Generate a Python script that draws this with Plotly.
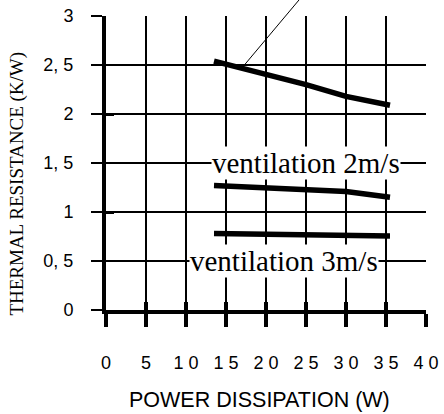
import plotly.graph_objects as go

# ---- data ----
x_natural = [13.5, 20, 25, 30, 35.5]
y_natural = [2.54, 2.41, 2.30, 2.18, 2.09]

x_vent2 = [13.5, 30, 35.5]
y_vent2 = [1.27, 1.21, 1.15]

x_vent3 = [13.5, 35.5]
y_vent3 = [0.78, 0.755]

x_tickvals = [0, 5, 10, 15, 20, 25, 30, 35, 40]
x_ticktext = ["0", "5", "1 0", "1 5", "2 0", "2 5", "3 0", "3 5", "4 0"]
y_tickvals = [0, 0.5, 1, 1.5, 2, 2.5, 3]
y_ticktext = ["0", "0, 5", "1", "1, 5", "2", "2, 5", "3"]
y_major = [0, 1, 2, 3]

label_vent2 = ("ventilation 2m/s", 25.0, 1.5)
label_vent3 = ("ventilation 3m/s", 22.3, 0.5)
leader = {"from": (24.5, 3.2), "to": (17.4, 2.51)}

LINE_W = 5.5

fig = go.Figure()
for xs, ys in [(x_natural, y_natural), (x_vent2, y_vent2), (x_vent3, y_vent3)]:
    fig.add_trace(go.Scatter(x=xs, y=ys, mode="lines",
                             line=dict(color="black", width=LINE_W),
                             showlegend=False, hoverinfo="skip"))
# invisible trace to register overlay axes (cross ticks)
fig.add_trace(go.Scatter(x=[None], y=[None], xaxis="x2", yaxis="y2",
                         mode="lines", showlegend=False, hoverinfo="skip"))

tickfont = dict(family="Liberation Sans, Arial, sans-serif", size=18, color="black")

fig.update_layout(
    width=444, height=414,
    margin=dict(l=106, r=18, t=16, b=104),
    paper_bgcolor="white", plot_bgcolor="white",
    xaxis=dict(range=[0, 40], tickvals=x_tickvals, ticktext=x_ticktext,
               ticks="outside", ticklen=13, tickwidth=4, tickcolor="black",
               showgrid=True, gridcolor="black", gridwidth=2,
               showline=True, linecolor="black", linewidth=4,
               zeroline=False, tickfont=tickfont, ticklabelstandoff=20,
               automargin=False),
    yaxis=dict(range=[0, 3], tickvals=y_tickvals, ticktext=y_ticktext,
               ticks="outside", ticklen=11, tickwidth=2, tickcolor="black",
               showgrid=True, gridcolor="black", gridwidth=2,
               showline=True, linecolor="black", linewidth=4,
               zeroline=False, tickfont=tickfont, ticklabelstandoff=14,
               automargin=False),
    xaxis2=dict(range=[0, 40], overlaying="x", anchor="y", side="bottom",
                tickvals=x_tickvals, ticks="inside", ticklen=8, tickwidth=4,
                tickcolor="black", showticklabels=False, showgrid=False,
                showline=False, zeroline=False, automargin=False),
    yaxis2=dict(range=[0, 3], overlaying="y", anchor="x", side="left",
                tickvals=y_major, ticks="inside", ticklen=8, tickwidth=3,
                tickcolor="black", showticklabels=False, showgrid=False,
                showline=False, zeroline=False, automargin=False),
)

serif = "Liberation Serif, Times New Roman, serif"
for text, lx, ly in [label_vent2, label_vent3]:
    fig.add_annotation(x=lx, y=ly, xref="x", yref="y", text=text,
                       showarrow=False, bgcolor="white", borderpad=0,
                       font=dict(family=serif, size=29, color="black"),
                       xanchor="center", yanchor="middle")

fig.add_annotation(x=leader["to"][0], y=leader["to"][1], xref="x", yref="y",
                   ax=leader["from"][0], ay=leader["from"][1], axref="x", ayref="y",
                   text="", showarrow=True, arrowhead=0, arrowwidth=1,
                   arrowcolor="black", standoff=0, startstandoff=0)

# axis titles
fig.add_annotation(x=-0.278, y=0.43, xref="paper", yref="paper",
                   text="THERMAL RESISTANCE (K/W)", textangle=-90, showarrow=False,
                   font=dict(family=serif, size=19, color="black"),
                   xanchor="center", yanchor="middle")
fig.add_annotation(x=0.48, y=-0.306, xref="paper", yref="paper",
                   text="POWER DISSIPATION (W)", showarrow=False,
                   font=dict(family="Liberation Sans, Arial, sans-serif", size=21.5, color="black"),
                   xanchor="center", yanchor="middle")

fig.write_html("out.html", config={"displayModeBar": False},
               post_script="document.body.style.margin='0';")
